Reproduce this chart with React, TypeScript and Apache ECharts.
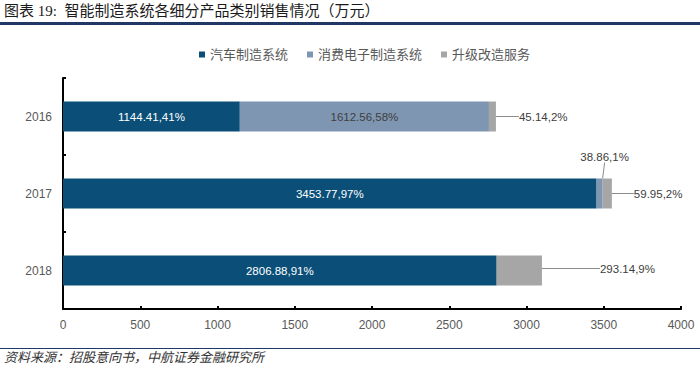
import React, { useEffect, useRef } from "react";
import * as echarts from "echarts";

const years = ["2016", "2017", "2018"];
const seriesNames = ["汽车制造系统", "消费电子制造系统", "升级改造服务"];
const autoSystem = [1144.41, 3453.77, 2806.88];
const consumerSystem = [1612.56, 38.86, 0];
const upgradeService = [45.14, 59.95, 293.14];
const xTicks = { min: 0, max: 4000, interval: 500 };
const titleText = "图表 19:  智能制造系统各细分产品类别销售情况（万元）";
const sourceText = "资料来源：招股意向书，中航证券金融研究所";

const colors = ["#0B4F78", "#7F96B2", "#A6A6A6"];
const FONT = "'Liberation Sans', Arial, 'Noto Sans CJK SC', sans-serif";

export default function App() {
  const ref = useRef<HTMLDivElement>(null);
  useEffect(() => {
    if (!ref.current) return;
    const chart = echarts.init(ref.current, null, { renderer: "svg" });
    const totals = years.map((_, i) => autoSystem[i] + consumerSystem[i] + upgradeService[i]);
    const fmt = (p: any) => {
      const v = p.value as number;
      if (!v) return "";
      const pct = Math.round((v / totals[p.dataIndex]) * 100);
      return `${v},${pct}%`;
    };
    const lineStyle = { color: "#8C8C8C", width: 1 };
    const option: any = {
      animation: false,
      textStyle: { fontFamily: FONT },
      grid: { left: 63, right: 19, top: 78, bottom: 57 },
      legend: {
        left: 194,
        top: 43,
        itemWidth: 6,
        itemHeight: 6,
        itemGap: 19,
        icon: "rect",
        textStyle: { fontSize: 13, color: "#595959", fontFamily: FONT },
        data: seriesNames,
      },
      xAxis: {
        type: "value",
        min: xTicks.min,
        max: xTicks.max,
        interval: xTicks.interval,
        axisLine: { show: true, lineStyle: { color: "#000", width: 2 } },
        axisTick: { show: true, inside: true, length: 3, lineStyle: { color: "#000", width: 2 } },
        splitLine: { show: false },
        axisLabel: { fontSize: 12, color: "#595959", margin: 10, formatter: (v: number) => String(v) },
      },
      yAxis: {
        type: "category",
        data: years,
        inverse: true,
        axisLine: { show: true, lineStyle: { color: "#000", width: 2 } },
        axisTick: { show: true, inside: true, length: 3, lineStyle: { color: "#000", width: 2 } },
        axisLabel: { fontSize: 12, color: "#595959", margin: 11 },
      },
      series: [
        {
          name: seriesNames[0],
          type: "bar",
          stack: "total",
          barWidth: 30,
          data: autoSystem,
          itemStyle: { color: colors[0] },
          label: { show: true, position: "inside", color: "#fff", fontSize: 11.5, formatter: fmt },
        },
        {
          name: seriesNames[1],
          type: "bar",
          stack: "total",
          data: consumerSystem.map((v, i) =>
            i === 1
              ? {
                  value: v,
                  label: { show: true, position: "top", color: "#404040", distance: 5 },
                  labelLine: { show: true, lineStyle },
                }
              : { value: v }
          ),
          itemStyle: { color: colors[1] },
          label: { show: true, position: "inside", color: "#404040", fontSize: 11.5, formatter: fmt },
          labelLayout: (p: any) => (p.dataIndex === 1 ? { dx: 5, dy: -11 } : {}),
        },
        {
          name: seriesNames[2],
          type: "bar",
          stack: "total",
          data: upgradeService,
          itemStyle: { color: colors[2] },
          label: {
            show: true,
            position: "right",
            distance: 5,
            color: "#404040",
            fontSize: 11.5,
            formatter: fmt,
            padding: [0, 0, 0, 4],
          },
          labelLine: { show: true, lineStyle },
          labelLayout: (p: any) => {
            if (p.dataIndex === 0) return { dx: 14 };
            if (p.dataIndex === 1) return { dx: 13 };
            return { dx: 49, dy: -2 };
          },
        },
      ],
      graphic: [
        {
          type: "text",
          left: 4,
          top: 3,
          style: {
            text: titleText,
            fontSize: 15,
            fontFamily: "'Liberation Serif', 'Noto Sans CJK SC', serif",
            fill: "#1a1a1a",
          },
        },
        {
          type: "rect",
          shape: { x: 0, y: 22, width: 700, height: 3 },
          style: { fill: "#1F3864" },
        },
        {
          type: "line",
          shape: { x1: 0, y1: 348.5, x2: 700, y2: 348.5 },
          style: { stroke: "#1F3864", lineWidth: 1 },
        },
        {
          type: "text",
          left: 4,
          top: 350,
          style: {
            text: sourceText,
            fontSize: 13,
            fontStyle: "italic",
            fontFamily: "'Noto Sans CJK SC', sans-serif",
            fill: "#333",
          },
        },
      ],
    };
    chart.setOption(option);
    return () => chart.dispose();
  }, []);
  return <div ref={ref} style={{ width: 700, height: 366, position: "absolute", left: 0, top: 0 }} />;
}
